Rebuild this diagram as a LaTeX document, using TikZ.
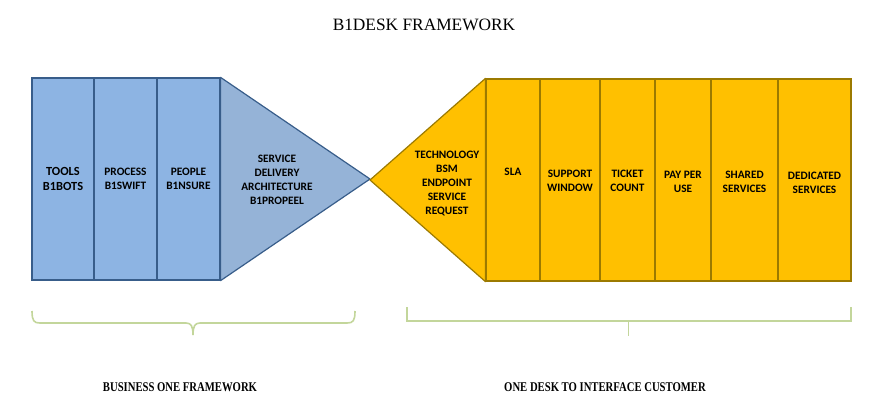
\documentclass[tikz,border=0pt]{standalone}
\usepackage{fontspec}
\setmainfont{Liberation Serif}
\newfontfamily\boxfont{Carlito}
\newfontfamily\capfont[FakeStretch=0.8]{Liberation Serif}
\usepackage{tikz}
\definecolor{bluefill}{HTML}{8DB4E3}
\definecolor{bluetri}{HTML}{95B3D7}
\definecolor{blueline}{HTML}{385D8A}
\definecolor{goldfill}{HTML}{FFC000}
\definecolor{goldline}{HTML}{9C7A00}
\definecolor{bracegreen}{HTML}{C3D69B}
\tikzstyle{lbox}=[rectangle, draw=blueline, fill=bluefill, line width=0.9pt, minimum height=151.5pt, inner sep=0pt, align=center, font=\boxfont\bfseries\fontsize{8.5}{10.5}\selectfont]
\tikzstyle{rbox}=[rectangle, draw=goldline, fill=goldfill, line width=0.9pt, minimum height=151.5pt, inner sep=0pt]
\tikzstyle{btext}=[inner sep=0pt, align=center, font=\boxfont\bfseries\fontsize{8.5}{10.5}\selectfont]
\tikzstyle{ltri}=[draw=blueline, fill=bluetri, line width=0.9pt, line join=round]
\tikzstyle{rtri}=[draw=goldline, fill=goldfill, line width=0.9pt, line join=round]
\tikzstyle{brace}=[-, draw=bracegreen, line width=1.2pt]
\tikzstyle{bracetip}=[-, draw=bracegreen, line width=0.7pt]
\tikzstyle{head}=[inner sep=0pt, font=\fontsize{13}{15}\selectfont]
\tikzstyle{foot}=[inner sep=0pt, font=\capfont\bfseries\fontsize{10}{12}\selectfont]

\begin{document}
\begin{tikzpicture}[x=0.75pt, y=-0.75pt]
			\useasboundingbox (0,0) rectangle (878,411);
			%The title
			\draw (424,25) node[head] (title) {B1DESK FRAMEWORK};
			
			%The business side
			\draw (63,179) node[lbox, minimum width=46.5pt, font=\boxfont\bfseries\fontsize{9.3}{11.5}\selectfont] (tools) {TOOLS\\B1BOTS};
			\draw (125.5,179) node[lbox, minimum width=47.25pt] (process) {PROCESS\\B1SWIFT};
			\draw (188.5,179) node[lbox, minimum width=47.25pt] (people) {PEOPLE\\B1NSURE};
			\draw[ltri] (people.north east) -- (370,179) -- (people.south east) -- cycle;
			\draw (277,180) node[btext] (sda) {SERVICE\\DELIVERY\\ARCHITECTURE\\B1PROPEEL};
			
			%The customer side
			\draw (513,180) node[rbox, minimum width=40.5pt] (sla) {};
			\draw (570,180) node[rbox, minimum width=45pt] (support) {};
			\draw (627.5,180) node[rbox, minimum width=41.25pt] (ticket) {};
			\draw (683,180) node[rbox, minimum width=42pt] (payuse) {};
			\draw (744.5,180) node[rbox, minimum width=50.25pt] (shared) {};
			\draw (814.5,180) node[rbox, minimum width=54.75pt] (dedicated) {};
			\draw[rtri] (sla.north west) -- (370,180) -- (sla.south west) -- cycle;
			\draw (447,183) node[btext] (tech) {TECHNOLOGY\\BSM\\ENDPOINT\\SERVICE\\REQUEST};
			\draw (513,172) node[btext] (sla-t) {SLA};
			\draw (570,181) node[btext] (support-t) {SUPPORT\\WINDOW};
			\draw (627.5,181) node[btext] (ticket-t) {TICKET\\COUNT};
			\draw (683,182) node[btext] (payuse-t) {PAY PER\\USE};
			\draw (744.5,182) node[btext] (shared-t) {SHARED\\SERVICES};
			\draw (814.5,183) node[btext] (dedicated-t) {DEDICATED\\SERVICES};
			
			%The braces
			\draw[brace] (32,311) .. controls (32,321) and (34,323) .. (40,323) -- (186,323) .. controls (191,323) and (193,326) .. (193,335);
			\draw[brace] (355,311) .. controls (355,321) and (353,323) .. (347,323) -- (200,323) .. controls (195,323) and (193,326) .. (193,335);
			\draw[brace] (407,307) -- (407,321) -- (851,321) -- (851,307);
			\draw[bracetip] (628,321) -- (628,336);
			
			%The captions
			\draw (180,387) node[foot] (business) {BUSINESS ONE FRAMEWORK};
			\draw (605,387) node[foot] (desk) {ONE DESK TO INTERFACE CUSTOMER};
		\end{tikzpicture}
\end{document}
